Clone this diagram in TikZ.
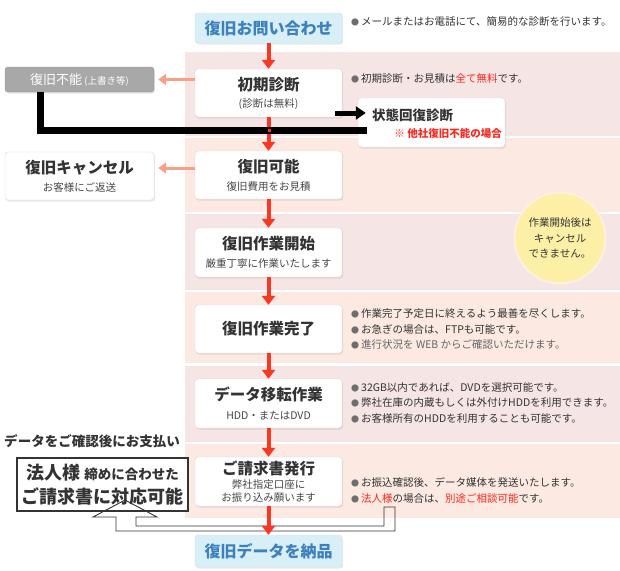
\documentclass[tikz,border=0pt]{standalone}
\usepackage{fontspec}
\setmainfont{Noto Sans CJK JP}
\usepackage{xcolor}
\usepackage{tikz}
\usetikzlibrary{arrows.meta, positioning, shadows, calc}
\definecolor{flowred}{RGB}{250, 56, 34}
\definecolor{flowsalmon}{RGB}{247, 160, 134}
\definecolor{bandpink}{RGB}{245, 229, 229}
\definecolor{bandsalmon}{RGB}{252, 233, 225}
\definecolor{boxgrey}{RGB}{216, 216, 216}
\definecolor{textdark}{RGB}{51, 51, 51}
\definecolor{subgrey}{RGB}{70, 70, 70}
\definecolor{endfill}{RGB}{217, 239, 248}
\definecolor{endtext}{RGB}{60, 128, 190}
\definecolor{failgrey}{RGB}{168, 168, 168}
\definecolor{dotgrey}{RGB}{110, 110, 110}
\definecolor{softgrey}{RGB}{100, 100, 100}
\definecolor{alertred}{RGB}{250, 40, 30}
\definecolor{circleyellow}{RGB}{253, 240, 166}

\newcommand{\steptitle}[1]{{\bfseries\fontsize{15.5}{18}\selectfont #1}}
\newcommand{\stepnote}[1]{{\color{subgrey}\fontsize{10.5}{13}\selectfont #1}}
\newcommand{\notedot}{{\color{dotgrey}\fontsize{8}{8}\selectfont ●}\hspace{2pt}}

\begin{document}
\begin{tikzpicture}[x=1pt, y=-1pt,
        stepbox/.style={rectangle, rounded corners=3pt, fill=white, draw=boxgrey, text=textdark,
            minimum width=147pt, align=center, inner sep=2pt, font=\fontsize{10.5}{13}\selectfont,
            drop shadow={shadow xshift=1pt, shadow yshift=-1.5pt, opacity=0.18}},
        endbox/.style={stepbox, fill=endfill, draw=endfill!85!gray, text=endtext,
            font=\bfseries\fontsize{16}{18}\selectfont},
        flowarrow/.style={-{Triangle[width=13pt, length=9pt]}, line width=4pt, flowred},
        backarrow/.style={-{Triangle[width=11pt, length=8pt]}, line width=3pt, flowsalmon, shorten >=4pt},
        notetext/.style={anchor=west, inner sep=0pt, text=textdark, font=\fontsize{10.5}{13}\selectfont},
        pipeline/.style={draw=textdark, line width=0.9pt}]

        \useasboundingbox (0,0) rectangle (620,570);

        % Bands behind the steps
        \fill[bandpink] (185,52) rectangle (620,136);
        \fill[bandsalmon] (185,138) rectangle (620,212);
        \fill[bandpink] (185,214) rectangle (620,290);
        \fill[bandsalmon] (185,292) rectangle (620,363);
        \fill[bandpink] (185,366) rectangle (620,442);
        \fill[bandsalmon] (185,444) rectangle (620,518);

        % Main steps
        \node[endbox, minimum height=30pt] (ask) at (268.5,28) {復旧お問い合わせ};
        \node[stepbox, minimum height=48pt] (diag) at (268.5,93) {\steptitle{初期診断}\\[4pt]\stepnote{(診断は無料)}};
        \node[stepbox, minimum height=48pt] (ok) at (268.5,175) {\steptitle{復旧可能}\\[5pt]\stepnote{復旧費用をお見積}};
        \node[stepbox, minimum height=49pt] (start) at (268.5,252.5) {\steptitle{復旧作業開始}\\[5pt]\stepnote{厳重丁寧に作業いたします}};
        \node[stepbox, minimum height=48pt] (done) at (268.5,329) {\steptitle{復旧作業完了}};
        \node[stepbox, minimum height=49pt] (move) at (268.5,403.5) {\steptitle{データ移転作業}\\[6pt]\stepnote{HDD・またはDVD}};
        \node[stepbox, minimum height=49pt] (bill) at (268.5,481.5) {\steptitle{ご請求書発行}\\[1pt]\stepnote{弊社指定口座に}\\[0pt]\stepnote{お振り込み願います}};
        \node[endbox, minimum height=32pt] (deliver) at (268.5,551) {復旧データを納品};

        % Side exits
        \node[stepbox, fill=failgrey, draw=failgrey!90!black, text=white, minimum width=149pt, minimum height=25pt] (fail) at (79.5,79.5) {{\fontsize{13}{16}\selectfont 復旧不能} {\fontsize{9.5}{10}\selectfont (上書き等)}};
        \node[stepbox, minimum width=149pt, minimum height=48pt] (cancel) at (79.5,176) {\steptitle{復旧キャンセル}\\[5pt]\stepnote{お客様にご返送}};
        \node[stepbox, minimum height=49pt] (state) at (431.5,122.5) {};
        \node[anchor=west, inner sep=0pt, text=textdark, font=\bfseries\fontsize{13.5}{15}\selectfont] (statetitle) at (372,115) {状態回復診断};
        \node[anchor=east, inner sep=0pt, text=alertred, font=\bfseries\fontsize{10.5}{12}\selectfont] (statenote) at (502,133) {※ 他社復旧不能の場合};

        % Notes on the right
        \node[notetext] (note1) at (351,22) {\notedot メールまたはお電話にて、簡易的な診断を行います。};
        \node[notetext] (note2) at (351,79) {\notedot 初期診断・お見積は{\color{alertred}全て無料}です。};
        \node[notetext] (note3) at (351,314) {\notedot 作業完了予定日に終えるよう最善を尽くします。};
        \node[notetext] (note4) at (351,330) {\notedot お急ぎの場合は、FTPも可能です。};
        \node[notetext, text=softgrey] (note5) at (351,345) {\notedot 進行状況を WEB からご確認いただけます。};
        \node[notetext] (note6) at (351,388) {\notedot 32GB以内であれば、DVDを選択可能です。};
        \node[notetext] (note7) at (351,403) {\notedot 弊社在庫の内蔵もしくは外付けHDDを利用できます。};
        \node[notetext] (note8) at (351,419) {\notedot お客様所有のHDDを利用することも可能です。};
        \node[notetext] (note9) at (351,482) {\notedot お振込確認後、データ媒体を発送いたします。};
        \node[notetext] (note10) at (351,499) {\notedot {\color{alertred}法人様}の場合は、{\color{alertred}別途ご相談可能}です。};

        % Cancel warning
        \node[circle, fill=circleyellow, draw=orange!12, line width=2pt, minimum size=91pt, align=center, text=textdark, font=\fontsize{10.5}{15.5}\selectfont] (nocancel) at (560,238) {作業開始後は\\キャンセル\\できません。};

        % Payment for companies
        \node[text=textdark, font=\bfseries\fontsize{13.5}{15}\selectfont] (paynote) at (92,441) {データをご確認後にお支払い};
        \node[draw=textdark, line width=2.5pt, fill=white, minimum width=171pt, minimum height=53pt, align=center, text=textdark, font=\bfseries\fontsize{18}{24}\selectfont] (corp) at (102.5,484.5) {法人様 {\fontsize{13.5}{15}\selectfont 締めに合わせた}\\ご請求書に対応可能};
        \draw[pipeline] (116,517) -- (116,531) -- (395,531) -- (395,507) -- (384,507) -- (384,526) -- (136,526) -- (136,517) -- (157,517) -- (125,500) -- (93,517) -- cycle;

        % Flow arrows
        \draw[flowarrow] (ask) -- (diag);
        \draw[flowarrow] (diag) -- (ok);
        \draw[flowarrow] (ok) -- (start);
        \draw[flowarrow] (start) -- (done);
        \draw[flowarrow] (done) -- (move);
        \draw[flowarrow] (move) -- (bill);
        \draw[flowarrow] (bill) -- (deliver);
        \draw[backarrow] (diag.west |- fail.east) -- (fail.east);
        \draw[backarrow] ([yshift=8pt]cancel.east -| ok.west) -- ([yshift=8pt]cancel.east);

        % Route to state diagnosis
        \coordinate (failturn) at (40,130);
        \coordinate (hintstart) at (335,113);
        \draw[line width=7pt, black] (fail.south -| failturn) |- ([xshift=9pt]state.west |- failturn);
        \fill[flowred] (267.5,128.5) rectangle (270.5,131.5);
        \draw[-{Triangle[width=13pt, length=10pt]}, line width=5pt, black] (hintstart) -- ([xshift=8pt]state.west |- hintstart);

    \end{tikzpicture}
\end{document}
